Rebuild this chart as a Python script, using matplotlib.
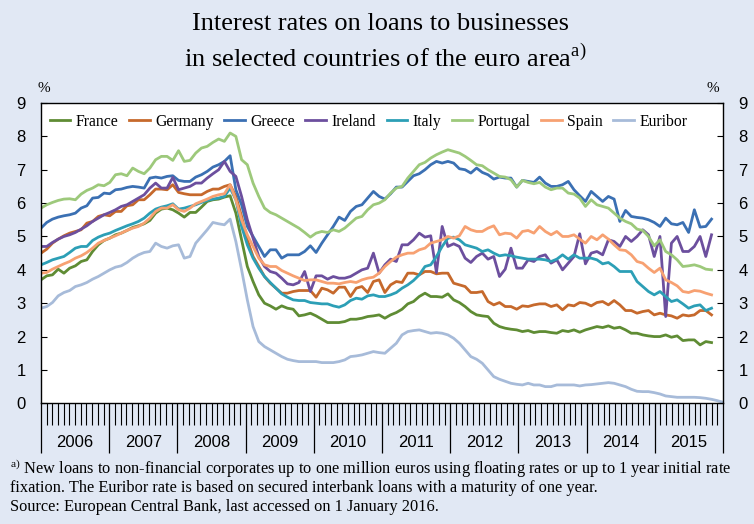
#!/usr/bin/env python
# Interest rates on loans to businesses, euro area countries 2006-2015

import numpy as np
from matplotlib import pyplot as plt
from matplotlib.ticker import FixedLocator

years = ['2006', '2007', '2008', '2009', '2010', '2011', '2012', '2013', '2014', '2015']
series_names = ['France', 'Germany', 'Greece', 'Ireland', 'Italy', 'Portugal', 'Spain', 'Euribor']

# monthly values from Jan 2006, one row per year (countries end Oct 2015)
france = [3.70, 3.82, 3.85, 4.02, 3.90, 4.05, 4.12, 4.25, 4.30, 4.55, 4.75, 4.88,
          4.95, 5.05, 5.10, 5.18, 5.27, 5.32, 5.38, 5.48, 5.70, 5.82, 5.85, 5.80,
          5.70, 5.58, 5.72, 5.72, 5.88, 6.05, 6.10, 6.12, 6.18, 6.22, 5.70, 4.90,
          4.10, 3.65, 3.25, 3.00, 2.92, 2.82, 2.92, 2.85, 2.82, 2.62, 2.65, 2.70,
          2.62, 2.52, 2.42, 2.42, 2.42, 2.45, 2.52, 2.52, 2.55, 2.60, 2.62, 2.65,
          2.55, 2.65, 2.72, 2.82, 2.98, 3.05, 3.20, 3.30, 3.20, 3.20, 3.18, 3.28,
          3.10, 3.02, 2.90, 2.75, 2.65, 2.62, 2.60, 2.40, 2.30, 2.25, 2.22, 2.20,
          2.15, 2.18, 2.12, 2.15, 2.15, 2.12, 2.10, 2.18, 2.15, 2.20, 2.13, 2.20,
          2.25, 2.30, 2.27, 2.32, 2.25, 2.28, 2.20, 2.10, 2.10, 2.05, 2.02, 2.00,
          2.00, 2.05, 1.98, 2.02, 1.88, 1.90, 1.90, 1.75, 1.85, 1.82]
germany = [4.50, 4.62, 4.80, 4.92, 5.02, 5.10, 5.15, 5.20, 5.40, 5.45, 5.60, 5.65,
           5.62, 5.75, 5.75, 5.92, 5.95, 6.10, 6.10, 6.25, 6.42, 6.42, 6.40, 6.55,
           6.32, 6.28, 6.25, 6.25, 6.25, 6.35, 6.42, 6.42, 6.50, 6.55, 6.20, 5.60,
           4.90, 4.40, 4.10, 3.80, 3.60, 3.45, 3.30, 3.30, 3.35, 3.38, 3.38, 3.38,
           3.18, 3.45, 3.40, 3.30, 3.48, 3.48, 3.20, 3.45, 3.50, 3.32, 3.65, 3.70,
           3.32, 3.55, 3.65, 3.62, 3.90, 3.90, 3.85, 3.95, 3.95, 3.88, 3.90, 3.90,
           3.60, 3.55, 3.50, 3.32, 3.32, 3.35, 3.05, 2.95, 3.02, 2.90, 2.90, 2.82,
           2.92, 2.90, 2.95, 2.98, 2.98, 2.90, 2.95, 2.80, 2.95, 2.92, 3.02, 3.00,
           2.92, 3.02, 3.05, 2.95, 3.08, 2.95, 2.78, 2.78, 2.70, 2.75, 2.78, 2.65,
           2.70, 2.65, 2.62, 2.55, 2.65, 2.62, 2.65, 2.78, 2.78, 2.65]
greece = [5.25, 5.42, 5.52, 5.58, 5.62, 5.65, 5.70, 5.85, 5.92, 6.15, 6.17, 6.30,
          6.28, 6.40, 6.42, 6.47, 6.50, 6.48, 6.45, 6.75, 6.78, 6.75, 6.80, 6.82,
          6.68, 6.65, 6.65, 6.78, 6.85, 6.95, 7.08, 7.15, 7.25, 7.42, 6.40, 5.95,
          5.30, 5.00, 4.70, 4.40, 4.60, 4.60, 4.35, 4.45, 4.45, 4.45, 4.55, 4.72,
          4.52, 4.80, 5.05, 5.30, 5.58, 5.48, 5.75, 5.90, 5.95, 6.15, 6.35, 6.20,
          6.12, 6.28, 6.48, 6.48, 6.65, 6.82, 6.88, 7.00, 7.15, 7.25, 7.20, 7.25,
          7.20, 7.03, 7.00, 6.90, 7.05, 6.92, 6.85, 6.72, 6.78, 6.75, 6.75, 6.48,
          6.68, 6.65, 6.62, 6.78, 6.60, 6.50, 6.50, 6.55, 6.65, 6.40, 6.22, 6.05,
          6.35, 6.20, 6.05, 6.20, 6.12, 5.45, 5.78, 5.60, 5.57, 5.55, 5.50, 5.42,
          5.30, 5.55, 5.38, 5.35, 5.42, 5.12, 5.80, 5.28, 5.30, 5.52]
ireland = [4.70, 4.70, 4.82, 4.92, 5.00, 5.05, 5.12, 5.22, 5.32, 5.45, 5.55, 5.65,
           5.72, 5.80, 5.90, 5.95, 6.05, 6.15, 6.25, 6.45, 6.60, 6.45, 6.45, 6.77,
           6.40, 6.45, 6.50, 6.60, 6.60, 6.75, 6.88, 7.00, 7.25, 6.95, 6.80, 6.20,
           5.50, 4.95, 4.40, 4.10, 3.95, 3.90, 3.75, 3.58, 3.55, 3.62, 3.95, 3.35,
           3.82, 3.82, 3.72, 3.80, 3.75, 3.75, 3.80, 3.90, 4.00, 4.05, 4.50, 3.90,
           4.15, 4.32, 4.25, 4.75, 4.75, 4.90, 5.10, 4.98, 5.02, 3.92, 5.30, 4.70,
           4.78, 4.70, 4.35, 4.22, 4.40, 4.50, 4.32, 4.40, 3.80, 4.02, 4.65, 4.05,
           4.05, 4.30, 4.25, 4.40, 4.45, 4.20, 4.30, 4.00, 4.20, 4.40, 5.08, 4.18,
           4.50, 4.55, 4.45, 4.90, 4.85, 4.70, 5.00, 4.85, 5.00, 5.20, 5.05, 4.40,
           5.00, 2.60, 4.80, 5.00, 4.55, 4.55, 4.70, 5.00, 4.40, 5.05]
italy = [4.15, 4.22, 4.30, 4.35, 4.40, 4.52, 4.65, 4.70, 4.70, 4.88, 4.98, 5.05,
         5.10, 5.18, 5.25, 5.32, 5.38, 5.45, 5.55, 5.70, 5.82, 5.88, 5.92, 5.98,
         5.82, 5.85, 5.90, 5.95, 6.02, 6.08, 6.12, 6.15, 6.20, 6.45, 6.10, 5.30,
         4.75, 4.35, 4.05, 3.80, 3.62, 3.45, 3.28, 3.18, 3.10, 3.08, 3.08, 3.02,
         3.00, 2.98, 2.98, 2.92, 2.88, 2.95, 3.08, 3.15, 3.12, 3.22, 3.25, 3.20,
         3.20, 3.25, 3.32, 3.45, 3.55, 3.68, 3.85, 4.10, 4.15, 4.40, 4.70, 4.95,
         4.98, 4.90, 4.75, 4.70, 4.65, 4.55, 4.60, 4.50, 4.42, 4.45, 4.42, 4.38,
         4.35, 4.32, 4.32, 4.32, 4.30, 4.25, 4.32, 4.45, 4.32, 4.45, 4.35, 4.35,
         4.35, 4.30, 4.18, 4.22, 4.10, 3.95, 3.95, 3.95, 3.65, 3.50, 3.35, 3.25,
         3.35, 3.20, 3.05, 3.10, 2.98, 2.85, 2.92, 2.95, 2.78, 2.85]
portugal = [5.85, 5.95, 6.02, 6.08, 6.12, 6.13, 6.10, 6.27, 6.38, 6.45, 6.55, 6.52,
            6.62, 6.85, 6.88, 6.82, 7.05, 6.95, 6.88, 7.05, 7.30, 7.40, 7.40, 7.28,
            7.57, 7.25, 7.28, 7.50, 7.65, 7.70, 7.82, 7.92, 7.85, 8.10, 8.00, 7.30,
            7.15, 6.60, 6.20, 5.85, 5.72, 5.65, 5.55, 5.45, 5.35, 5.25, 5.12, 4.98,
            5.10, 5.15, 5.12, 5.20, 5.15, 5.25, 5.40, 5.55, 5.60, 5.80, 5.95, 6.00,
            6.10, 6.30, 6.45, 6.50, 6.75, 6.95, 7.15, 7.22, 7.35, 7.45, 7.53, 7.60,
            7.55, 7.50, 7.40, 7.28, 7.15, 7.12, 7.00, 6.90, 6.80, 6.78, 6.70, 6.48,
            6.68, 6.62, 6.58, 6.62, 6.48, 6.40, 6.45, 6.45, 6.30, 6.27, 6.15, 5.90,
            6.10, 5.95, 5.90, 5.85, 5.70, 5.55, 5.45, 5.38, 5.22, 5.18, 5.00, 4.72,
            4.90, 4.55, 4.45, 4.30, 4.10, 4.12, 4.15, 4.10, 4.02, 4.00]
spain = [3.90, 3.92, 4.02, 4.10, 4.18, 4.25, 4.35, 4.42, 4.52, 4.65, 4.80, 4.88,
         4.95, 5.02, 5.10, 5.18, 5.25, 5.30, 5.40, 5.55, 5.75, 5.85, 5.85, 5.95,
         5.80, 5.75, 5.85, 5.98, 6.05, 6.12, 6.20, 6.25, 6.28, 6.55, 6.10, 5.50,
         5.05, 4.70, 4.35, 4.15, 4.10, 4.10, 3.98, 3.90, 3.82, 3.75, 3.68, 3.70,
         3.70, 3.65, 3.60, 3.60, 3.58, 3.62, 3.65, 3.62, 3.70, 3.75, 3.78, 3.90,
         4.10, 4.25, 4.38, 4.45, 4.50, 4.50, 4.60, 4.65, 4.80, 4.85, 4.90, 5.00,
         4.95, 5.02, 5.30, 5.20, 5.15, 5.15, 5.25, 5.32, 5.05, 5.10, 5.08, 4.95,
         5.15, 5.18, 5.10, 5.30, 5.15, 5.05, 5.15, 5.00, 5.00, 5.05, 4.92, 4.80,
         5.00, 4.90, 5.05, 4.92, 4.75, 4.60, 4.58, 4.45, 4.25, 4.20, 4.05, 3.92,
         4.05, 3.70, 3.62, 3.52, 3.35, 3.32, 3.38, 3.36, 3.30, 3.25]
# Euribor runs two months longer (to Dec 2015)
euribor = [2.85, 2.90, 3.02, 3.22, 3.32, 3.38, 3.50, 3.55, 3.62, 3.72, 3.80, 3.90,
           4.00, 4.08, 4.12, 4.22, 4.35, 4.45, 4.52, 4.55, 4.80, 4.70, 4.65, 4.72,
           4.75, 4.35, 4.40, 4.80, 5.00, 5.20, 5.42, 5.38, 5.35, 5.52, 4.85, 4.00,
           3.10, 2.30, 1.85, 1.70, 1.60, 1.50, 1.40, 1.32, 1.28, 1.25, 1.25, 1.25,
           1.25, 1.22, 1.22, 1.22, 1.25, 1.30, 1.40, 1.42, 1.45, 1.50, 1.55, 1.52,
           1.50, 1.65, 1.80, 2.05, 2.15, 2.18, 2.20, 2.15, 2.10, 2.12, 2.10, 2.05,
           1.95, 1.80, 1.60, 1.40, 1.32, 1.20, 1.00, 0.80, 0.72, 0.66, 0.60, 0.57,
           0.55, 0.60, 0.55, 0.55, 0.50, 0.50, 0.55, 0.55, 0.55, 0.55, 0.52, 0.55,
           0.56, 0.58, 0.60, 0.62, 0.60, 0.55, 0.50, 0.42, 0.36, 0.35, 0.35, 0.32,
           0.28, 0.22, 0.20, 0.18, 0.18, 0.18, 0.18, 0.17, 0.15, 0.12, 0.08, 0.03]

colors = ['#5f8c34', '#c6692c', '#3b70b3', '#6c4f9e', '#2c9fb6', '#9dc97b', '#f7a172', '#a7bbd9']

def main():
	bg = '#e1e8f4'
	plt.rcParams['mathtext.fontset'] = 'custom'
	plt.rcParams['mathtext.rm'] = 'Liberation Serif'
	serif = 'Liberation Serif'
	sans = 'Liberation Sans'

	fig = plt.figure(figsize=(7.54, 5.24), dpi=100, facecolor=bg)
	ax = fig.add_axes([41/754, 1-403.3/524, 682/754, 300.3/524])
	ax.set_facecolor('white')

	data = [france, germany, greece, ireland, italy, portugal, spain, euribor]
	for name, vals, c in zip(series_names, data, colors):
		ax.plot(np.arange(len(vals)), vals, color=c, lw=2.0, label=name, solid_joinstyle='round')

	ax.set_xlim(0, 119)
	ax.set_ylim(0, 9)
	for s in ax.spines.values():
		s.set_linewidth(1.0)

	# y axis on both sides
	ax.set_yticks(range(10))
	ax.tick_params(axis='y', direction='in', length=4, width=0.8, left=True, right=True,
		labelleft=True, labelright=True, labelsize=12, pad=11)
	for lab in ax.get_yticklabels():
		lab.set_family(sans)

	# x axis: year separators and monthly ticks
	edges = np.linspace(0, 119, len(years)+1)
	ax.xaxis.set_major_locator(FixedLocator(edges))
	ax.xaxis.set_minor_locator(FixedLocator(np.linspace(0, 119, 121)))
	ax.tick_params(axis='x', which='major', direction='out', length=36, width=0.9, labelbottom=False)
	ax.tick_params(axis='x', which='minor', direction='out', length=16, width=0.8)
	for i, y in enumerate(years):
		ax.text((edges[i]+edges[i+1])/2, -0.132, y, transform=ax.get_xaxis_transform(),
			ha='center', va='center', fontsize=12, family=sans)

	ax.legend(loc='center left', bbox_to_anchor=(0.013, 0.937), ncol=8, frameon=False,
		prop={'family': serif, 'size': 11.3}, handlelength=1.3, handletextpad=0.35,
		columnspacing=0.68, borderpad=0, borderaxespad=0)

	fig.text(381/754, 1-24/524, 'Interest rates on loans to businesses', ha='center', va='center',
		fontsize=19, family=serif)
	fig.text(385/754, 1-58/524, r'in selected countries of the euro area$^{\mathrm{a)}}$', ha='center',
		va='center', fontsize=19, family=serif)
	fig.text(44/754, 1-88/524, '%', ha='center', va='center', fontsize=11, family=serif)
	fig.text(713/754, 1-88/524, '%', ha='center', va='center', fontsize=11, family=serif)

	notes = [r'$^{\mathrm{a)}}$ New loans to non-financial corporates up to one million euros using floating rates or up to 1 year initial rate',
		'fixation. The Euribor rate is based on secured interbank loans with a maturity of one year.',
		'Source: European Central Bank, last accessed on 1 January 2016.']
	for i, t in enumerate(notes):
		fig.text(10/754, 1-(469+19*i)/524, t, ha='left', va='center', fontsize=11.8, family=serif)

	fig.savefig('out.png', dpi=100, facecolor=bg)

if __name__ == '__main__':
	main()
